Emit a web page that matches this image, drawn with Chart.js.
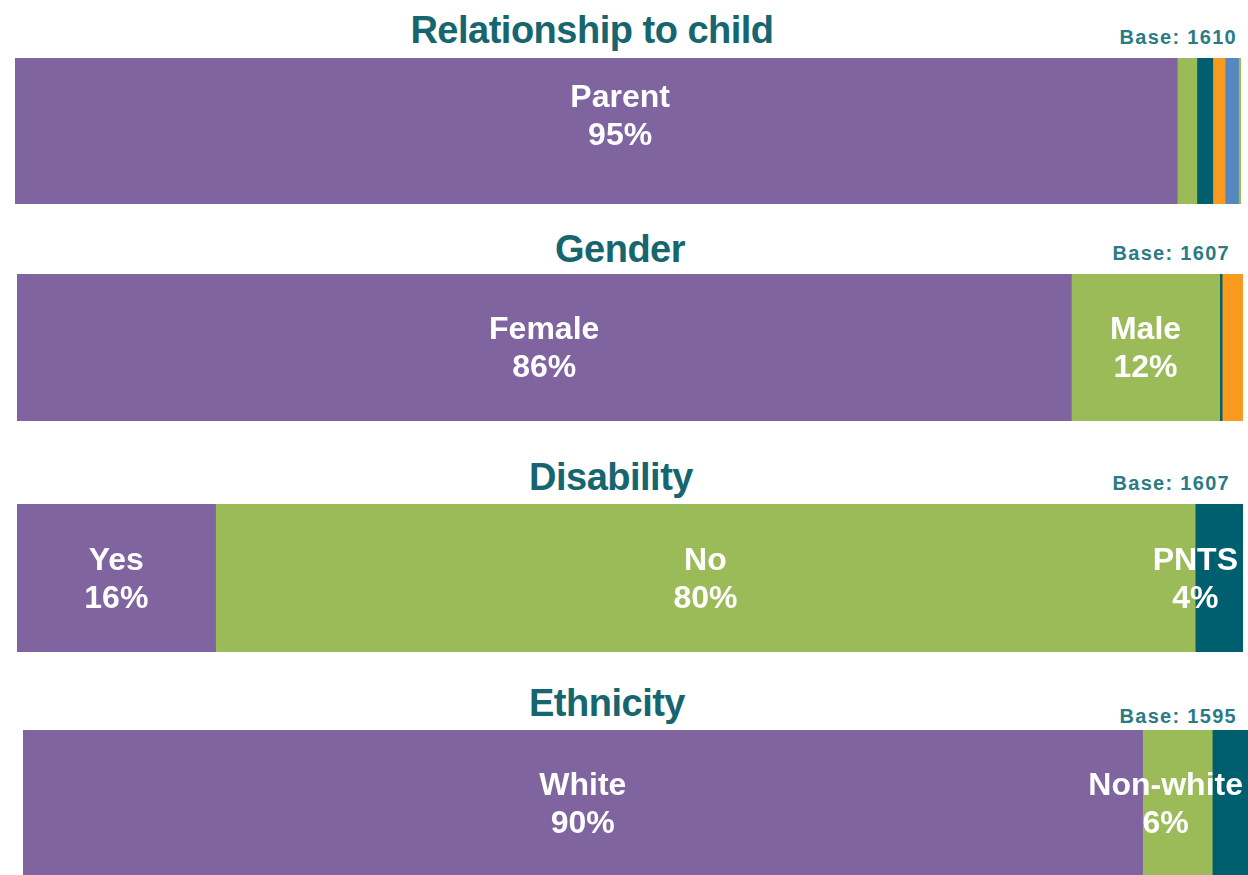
<!DOCTYPE html>
<html lang="en">
<head>
    <meta charset="UTF-8">
    <title>Respondent profile</title>
    <script src="https://cdn.jsdelivr.net/npm/chart.js"></script>
    <style>
        html, body {
            margin: 0;
            padding: 0;
            width: 1248px;
            height: 875px;
            overflow: hidden;
            background: #ffffff;
            font-family: "Liberation Sans", Arial, sans-serif;
        }
        .titulo {
            position: absolute;
            font-size: 38px;
            line-height: 38px;
            font-weight: bold;
            color: #16656f;
            letter-spacing: -0.5px;
            white-space: nowrap;
            transform: translateX(-50%);
        }
        .base {
            position: absolute;
            font-size: 20px;
            line-height: 20px;
            font-weight: bold;
            color: #2b7b86;
            letter-spacing: 1.3px;
            white-space: nowrap;
            text-align: right;
        }
        .barra {
            position: absolute;
        }
    </style>
</head>
<body>

    <div class="titulo" style="left:592px; top:11px;">Relationship to child</div>
    <div class="base" style="right:11px; top:27px;">Base: 1610</div>
    <div class="barra" style="left:15px; top:58px; width:1226px; height:146px;"><canvas id="grafRel"></canvas></div>

    <div class="titulo" style="left:620px; top:230px;">Gender</div>
    <div class="base" style="right:18px; top:243px;">Base: 1607</div>
    <div class="barra" style="left:17px; top:274px; width:1226px; height:147px;"><canvas id="grafGen"></canvas></div>

    <div class="titulo" style="left:611px; top:458px;">Disability</div>
    <div class="base" style="right:18px; top:473px;">Base: 1607</div>
    <div class="barra" style="left:17px; top:504px; width:1226px; height:148px;"><canvas id="grafDis"></canvas></div>

    <div class="titulo" style="left:607px; top:684px;">Ethnicity</div>
    <div class="base" style="right:11px; top:706px;">Base: 1595</div>
    <div class="barra" style="left:23px; top:730px; width:1244px; height:147px;"><canvas id="grafEth"></canvas></div>

    <script>
        // dados (percentagens)
        const relCategorias = ['Parent', 'Grandparent', 'Step-parent', 'Foster carer', 'Other relative', 'Other'];
        const relValores = [94.8, 1.6, 1.3, 1.0, 1.1, 0.2];
        const relRotulos = [true, false, false, false, false, false];

        const genCategorias = ['Female', 'Male', 'Other', 'PNTS'];
        const genValores = [86.0, 12.1, 0.2, 1.7];
        const genRotulos = [true, true, false, false];

        const disCategorias = ['Yes', 'No', 'PNTS'];
        const disValores = [16.2, 79.9, 3.9];
        const disRotulos = [true, true, true];

        const ethCategorias = ['White', 'Non-white', 'PNTS'];
        const ethValores = [90.0, 5.6, 4.4];
        const ethRotulos = [true, true, false];

        const cores = {
            roxo: '#7f64a0',
            verde: '#9bbb59',
            petroleo: '#005f6e',
            laranja: '#f79a1e',
            azul: '#5688bf'
        };
        const relCores = [cores.roxo, cores.verde, cores.petroleo, cores.laranja, cores.azul, cores.verde];
        const genCores = [cores.roxo, cores.verde, cores.petroleo, cores.laranja];
        const disCores = [cores.roxo, cores.verde, cores.petroleo];
        const ethCores = [cores.roxo, cores.verde, cores.petroleo];

        // desenha nome + % dentro de cada segmento
        const rotulosPlugin = {
            id: 'rotulos',
            afterDatasetsDraw(chart, args, opts) {
                const ctx = chart.ctx;
                const area = chart.chartArea;
                const canvasLeft = chart.canvas.getBoundingClientRect().left;
                const limite = Math.min(area.right, window.innerWidth - canvasLeft) - 5;
                ctx.save();
                ctx.fillStyle = '#ffffff';
                ctx.font = 'bold 32px "Liberation Sans", Arial, sans-serif';
                ctx.textAlign = 'center';
                ctx.textBaseline = 'middle';
                chart.data.datasets.forEach((ds, i) => {
                    if (!opts.mostrar[i]) return;
                    const bar = chart.getDatasetMeta(i).data[0];
                    const nome = ds.label;
                    const pct = Math.round(ds.data[0]) + '%';
                    const meia = Math.max(ctx.measureText(nome).width, ctx.measureText(pct).width) / 2;
                    let x = (bar.x + bar.base) / 2 + (i === 0 ? (opts.desvioX || 0) : 0);
                    if (x + meia > limite) x = limite - meia;
                    const y = bar.y + 2 + (opts.desvioY || 0);
                    ctx.fillText(nome, x, y - 19);
                    ctx.fillText(pct, x, y + 19);
                });
                ctx.restore();
            }
        };

        function gerarGrafico(id, categorias, valores, coresSeg, mostrar, desvioX, desvioY) {
            const ctx = document.getElementById(id).getContext('2d');
            const total = valores.reduce((a, b) => a + b, 0);
            return new Chart(ctx, {
                type: 'bar',
                data: {
                    labels: [''],
                    datasets: categorias.map((c, i) => ({
                        label: c,
                        data: [valores[i]],
                        backgroundColor: coresSeg[i],
                        borderWidth: 0,
                        barPercentage: 1,
                        categoryPercentage: 1
                    }))
                },
                options: {
                    indexAxis: 'y',
                    responsive: true,
                    maintainAspectRatio: false,
                    animation: false,
                    layout: { padding: 0 },
                    scales: {
                        x: { stacked: true, min: 0, max: total, display: false },
                        y: { stacked: true, display: false }
                    },
                    plugins: {
                        legend: { display: false },
                        tooltip: { enabled: false },
                        rotulos: { mostrar: mostrar, desvioX: desvioX, desvioY: desvioY }
                    }
                },
                plugins: [rotulosPlugin]
            });
        }

        gerarGrafico('grafRel', relCategorias, relValores, relCores, relRotulos, 24, -16);
        gerarGrafico('grafGen', genCategorias, genValores, genCores, genRotulos, 0, 0);
        gerarGrafico('grafDis', disCategorias, disValores, disCores, disRotulos, 0, 0);
        gerarGrafico('grafEth', ethCategorias, ethValores, ethCores, ethRotulos, 0, 0);
    </script>
</body>
</html>
